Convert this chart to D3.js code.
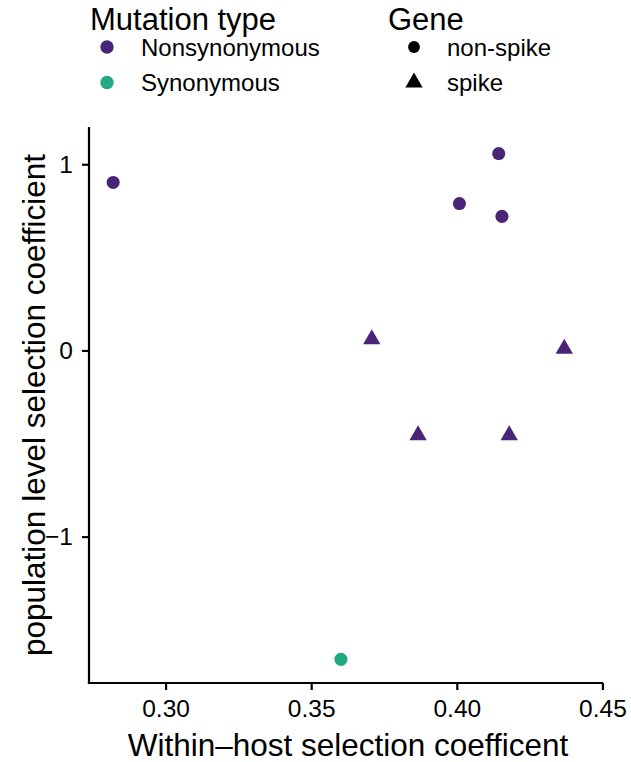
<!DOCTYPE html>
<html><head><meta charset="utf-8">
<script src="https://cdn.jsdelivr.net/npm/d3@7"></script>
<style>body{margin:0;background:#fff}svg{display:block}text{font-family:"Liberation Sans",Arial,sans-serif;fill:#000}</style>
</head><body>
<script>
const xVals = [0.2820, 0.3602, 0.4144, 0.4009, 0.4155, 0.3708, 0.4369, 0.3867, 0.4180];
const yVals = [0.902, -1.659, 1.0575, 0.789, 0.720, 0.060, 0.009, -0.456, -0.456];
const mutType = ["Nonsynonymous","Synonymous","Nonsynonymous","Nonsynonymous","Nonsynonymous","Nonsynonymous","Nonsynonymous","Nonsynonymous","Nonsynonymous"];
const gene = ["non-spike","non-spike","non-spike","non-spike","non-spike","spike","spike","spike","spike"];
const mutLevels = ["Nonsynonymous","Synonymous"];
const geneLevels = ["non-spike","spike"];
const xTicks = [0.30, 0.35, 0.40, 0.45];
const yTicks = [-1, 0, 1];

const W = 631, H = 762;
const L = 89, R = 603, T = 127, B = 683;
const svg = d3.select("body").append("svg").attr("width", W).attr("height", H);

const x = d3.scaleLinear().domain([0.2737, 0.4502]).range([L, R]);
const y = d3.scaleLinear().domain([-1.786, 1.2]).range([B, T]);
const color = d3.scaleOrdinal().domain(mutLevels).range(["#482576", "#22A884"]);
const shape = d3.scaleOrdinal().domain(geneLevels).range([d3.symbolCircle, d3.symbolTriangle]);
const sizeFor = g => g === "spike" ? 130 : 135;

// axes
const xAxis = svg.append("g").attr("transform", `translate(0,${B})`)
  .call(d3.axisBottom(x).tickValues(xTicks).tickFormat(d3.format(".2f")).tickSize(7).tickSizeOuter(0).tickPadding(10));
const yAxis = svg.append("g").attr("transform", `translate(${L},0)`)
  .call(d3.axisLeft(y).tickValues(yTicks).tickFormat(d => d < 0 ? "\u2212" + Math.abs(d) : d).tickSize(7).tickSizeOuter(0).tickPadding(9));
[xAxis, yAxis].forEach(a => {
  a.select(".domain").attr("stroke", "#000").attr("stroke-width", 2.2);
  a.selectAll(".tick line").attr("stroke", "#000").attr("stroke-width", 2.2);
  a.selectAll(".tick text").attr("fill", "#000").style("font-size", "24.5px").style("font-family", '"Liberation Sans",Arial,sans-serif');
});
xAxis.select(".domain").attr("d", `M${L - 1.1},0H${R}`);
yAxis.select(".domain").attr("d", `M0,${T}V${B + 1.1}`);

// points
const data = xVals.map((v, i) => ({x: v, y: yVals[i], m: mutType[i], g: gene[i]}));
svg.append("g").selectAll("path").data(data).join("path")
  .attr("transform", d => `translate(${x(d.x)},${y(d.y)})`)
  .attr("d", d => d3.symbol().type(shape(d.g)).size(sizeFor(d.g))())
  .attr("fill", d => color(d.m));

// axis titles
svg.append("text").attr("x", (L + R) / 2 + 2).attr("y", 756).attr("text-anchor", "middle")
  .style("font-size", "31.5px").text("Within\u2013host selection coefficent");
svg.append("text").attr("transform", `translate(45,${(T + B) / 2}) rotate(-90)`).attr("text-anchor", "middle")
  .style("font-size", "31.5px").text("population level selection coefficient");

// legends
const lg1 = svg.append("g");
lg1.append("text").attr("x", 90).attr("y", 30).style("font-size", "31px").text("Mutation type");
mutLevels.forEach((m, i) => {
  const yy = 47 + i * 35.5;
  lg1.append("path").attr("transform", `translate(107,${yy})`).attr("d", d3.symbol().type(d3.symbolCircle).size(140)()).attr("fill", color(m));
  lg1.append("text").attr("x", 141).attr("y", yy + 8.5).style("font-size", "24px").text(m);
});
const lg2 = svg.append("g");
lg2.append("text").attr("x", 388).attr("y", 30).style("font-size", "31px").text("Gene");
geneLevels.forEach((g, i) => {
  const yy = 47 + i * 35.5;
  lg2.append("path").attr("transform", `translate(414,${yy})`).attr("d", d3.symbol().type(shape(g)).size(g === "spike" ? 130 : 110)()).attr("fill", "#000");
  lg2.append("text").attr("x", 447).attr("y", yy + 8.5).style("font-size", "24px").text(g);
});
</script>
</body></html>
